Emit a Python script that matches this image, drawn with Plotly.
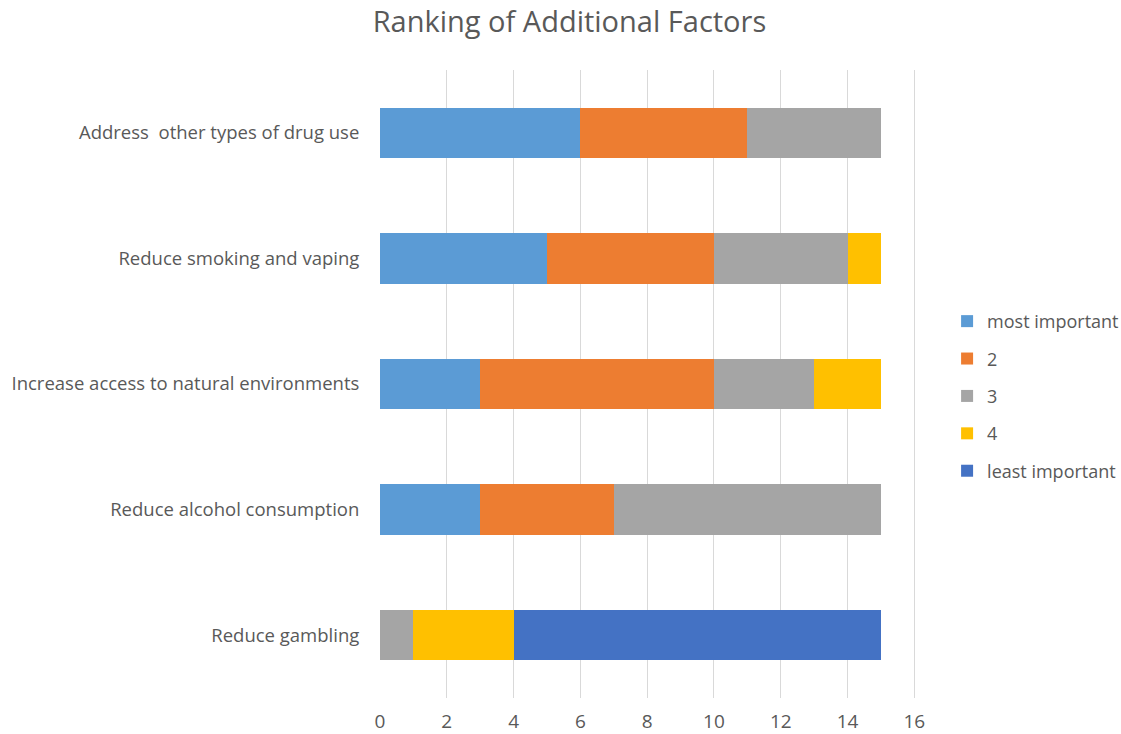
import plotly.graph_objects as go

categories = ["Reduce gambling", "Reduce alcohol consumption",
              "Increase access to natural environments", "Reduce smoking and vaping",
              "Address\u00a0 other types of drug use"]
series_names = ["most important", "2", "3", "4", "least important"]
most_important = [0, 3, 3, 5, 6]
rank2 = [0, 4, 7, 5, 5]
rank3 = [1, 8, 3, 4, 4]
rank4 = [3, 0, 2, 1, 0]
least_important = [11, 0, 0, 0, 0]
colors = ["#5B9BD5", "#ED7D31", "#A5A5A5", "#FFC000", "#4472C4"]
x_ticks = [0, 2, 4, 6, 8, 10, 12, 14, 16]

values = [most_important, rank2, rank3, rank4, least_important]
FONT = "Open Sans"
TXT = "#595959"

fig = go.Figure()
for name, vals, col in zip(series_names, values, colors):
    fig.add_trace(go.Bar(y=categories, x=vals, name=name, orientation="h",
                         marker=dict(color=col, line=dict(width=0)),
                         width=0.4, legendgroup=name))

fig.update_layout(
    barmode="stack",
    width=1121, height=734,
    paper_bgcolor="white", plot_bgcolor="white",
    margin=dict(l=380, r=205, t=70, b=36, autoexpand=False),
    title=dict(text="Ranking of Additional Factors", x=0.508, xanchor="center",
               y=0.970, yanchor="middle",
               font=dict(family=FONT, size=29, color=TXT)),
    font=dict(family=FONT, size=18, color=TXT),
    showlegend=True,
    legend=dict(x=1.058, xanchor="left", y=0.481, yanchor="middle",
                traceorder="grouped", tracegroupgap=11,
                font=dict(family=FONT, size=18, color=TXT),
                itemwidth=30),
    bargap=0.6,
)
fig.update_xaxes(range=[0, 16.05], tickvals=x_ticks, showgrid=True, gridcolor="#D9D9D9",
                 gridwidth=1, zeroline=False, showline=False, automargin=False,
                 ticks="outside", ticklen=6, tickcolor="rgba(0,0,0,0)",
                 tickfont=dict(family=FONT, size=19, color=TXT))
fig.update_yaxes(range=[-0.5, 4.5], showgrid=False, zeroline=False, showline=False,
                 automargin=False,
                 ticks="outside", ticklen=16, tickcolor="rgba(0,0,0,0)",
                 tickfont=dict(family=FONT, size=18.5, color=TXT))

fig.write_html("out.html", config={"displayModeBar": False},
               post_script="document.body.style.margin='0';document.body.style.overflow='hidden';")
